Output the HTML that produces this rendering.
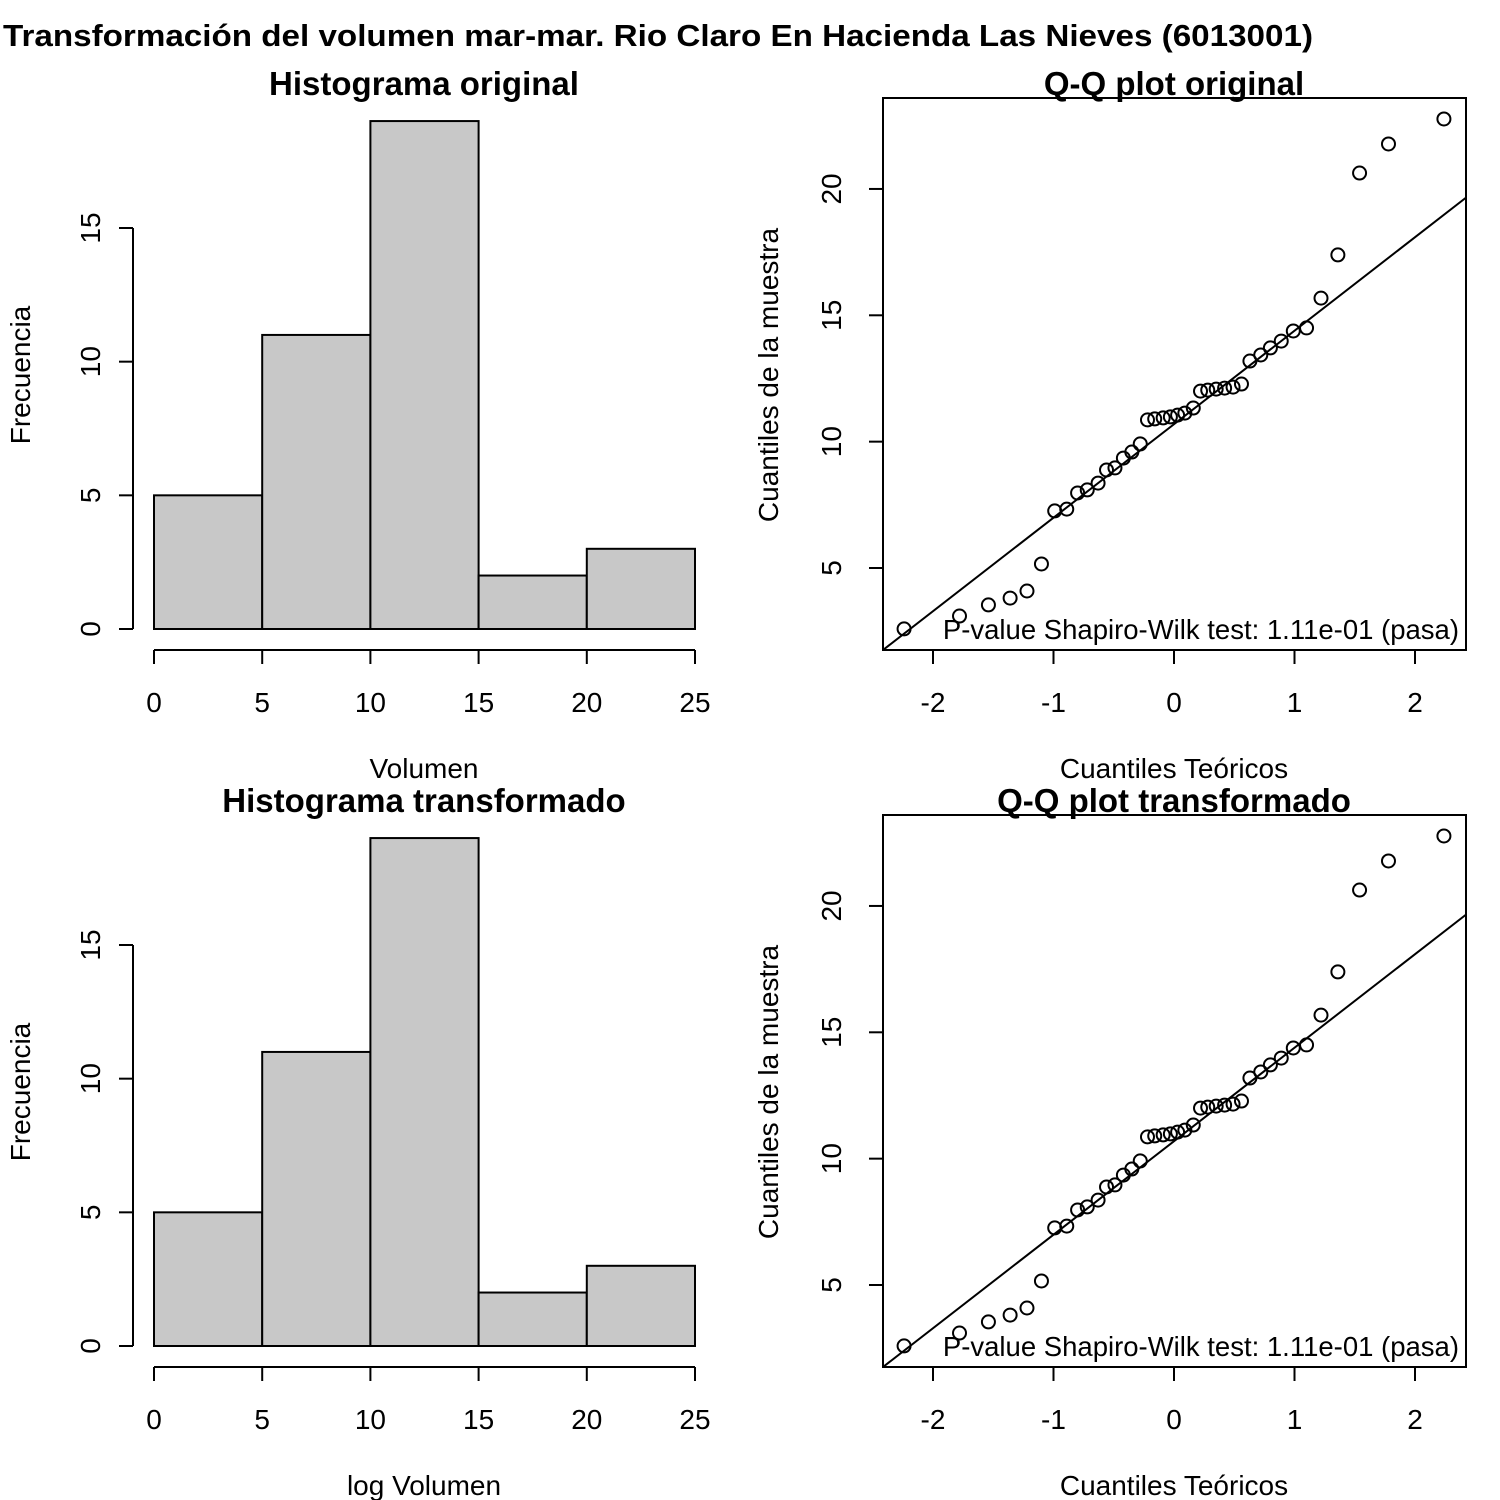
<!DOCTYPE html>
<html><head><meta charset="utf-8"><style>
html,body{margin:0;padding:0;background:#fff}
svg{display:block;font-family:"Liberation Sans",Arial,sans-serif}
</style></head><body>
<svg id="c" width="1500" height="1500" viewBox="0 0 1500 1500" xmlns="http://www.w3.org/2000/svg">
<text x="3" y="46" font-size="31" font-weight="bold" textLength="1310" lengthAdjust="spacingAndGlyphs">Transformación del volumen mar-mar. Rio Claro En Hacienda Las Nieves (6013001)</text>
</svg>
<script>
const histBreaks = [0,5,10,15,20,25];
const histCounts = [5,11,19,2,3];
const histYTicks = [0,5,10,15];
const histXTicks = [0,5,10,15,20,25];
const qqTheo = [-2.24,-1.78,-1.54,-1.36,-1.22,-1.10,-0.99,-0.89,-0.80,-0.72,-0.63,-0.56,-0.49,-0.42,-0.35,-0.28,-0.22,-0.16,-0.09,-0.03,0.03,0.09,0.16,0.22,0.28,0.35,0.42,0.49,0.56,0.63,0.72,0.80,0.89,0.99,1.10,1.22,1.36,1.54,1.78,2.24];
const qqSample = [2.59,3.10,3.54,3.81,4.09,5.16,7.26,7.33,7.97,8.09,8.36,8.88,8.96,9.35,9.59,9.91,10.86,10.90,10.94,10.98,11.05,11.13,11.33,12.00,12.04,12.08,12.12,12.16,12.28,13.19,13.43,13.71,13.98,14.38,14.50,15.68,17.39,20.63,21.78,22.77];
const qqLine = [10.69, 3.70]; // intercept, slope
const qqXTicks = [-2,-1,0,1,2];
const qqYTicks = [5,10,15,20];
const pText = "P-value Shapiro-Wilk test: 1.11e-01 (pasa)";

const svg = document.getElementById('c');
const NS = 'http://www.w3.org/2000/svg';
const FS = 28;
function mk(tag, attrs, parent, text){
  const e = document.createElementNS(NS, tag);
  for (const k in attrs) e.setAttribute(k, attrs[k]);
  if (text !== undefined) e.textContent = text;
  (parent||svg).appendChild(e);
  return e;
}

function hist(dy, title, xlab, key){
  const g = mk('g', {});
  
  
  const sx = v => 154 + v * (695-154)/25;
  const sy = v => 629 + dy - v * (629-228)/15;
  const t = mk('text', {x:424, y:95+dy, 'font-size':33, 'font-weight':'bold', 'text-anchor':'middle'}, g, title);
  
  
  histCounts.forEach((c,i)=>{
    const r = mk('rect', {x:sx(histBreaks[i]), y:sy(c), width:sx(histBreaks[i+1])-sx(histBreaks[i]), height:sy(0)-sy(c), fill:'#c8c8c8', stroke:'#000', 'stroke-width':2}, g);
    
    
  });
  const ya = mk('g', {}, g);
  
  
  mk('line', {x1:133, x2:133, y1:sy(0), y2:sy(15), stroke:'#000', 'stroke-width':2}, ya);
  histYTicks.forEach(v=>{
    mk('line', {x1:133, x2:119, y1:sy(v), y2:sy(v), stroke:'#000', 'stroke-width':2}, ya);
    mk('text', {x:0, y:0, transform:`translate(100,${sy(v)}) rotate(-90)`, 'font-size':FS, 'text-anchor':'middle'}, ya, v);
  });
  const xa = mk('g', {}, g);
  
  
  mk('line', {x1:sx(0), x2:sx(25), y1:650+dy, y2:650+dy, stroke:'#000', 'stroke-width':2}, xa);
  histXTicks.forEach(v=>{
    mk('line', {x1:sx(v), x2:sx(v), y1:650+dy, y2:664+dy, stroke:'#000', 'stroke-width':2}, xa);
    mk('text', {x:sx(v), y:712+dy, 'font-size':FS, 'text-anchor':'middle'}, xa, v);
  });
  const xl = mk('text', {x:424, y:778+dy, 'font-size':FS, 'text-anchor':'middle'}, g, xlab);
  
  
  const yl = mk('text', {x:0, y:0, transform:`translate(30,${375+dy}) rotate(-90)`, 'font-size':FS, 'text-anchor':'middle'}, g, 'Frecuencia');
  
  
}

function qq(dy, title, key){
  const g = mk('g', {});
  
  
  const L=883, R=1466, T=98+dy, B=650+dy;
  const sx = v => 1174 + v * 120.5;
  const sy = v => 568 + dy - (v-5) * 25.27;
  const box = mk('rect', {x:L, y:T, width:R-L, height:B-T, fill:'none', stroke:'#000', 'stroke-width':2}, g);
  
  
  const t = mk('text', {x:1174, y:95+dy, 'font-size':33, 'font-weight':'bold', 'text-anchor':'middle'}, g, title);
  
  
  const cp = mk('clipPath', {id:'clip'+key}, g);
  mk('rect', {x:L, y:T, width:R-L, height:B-T}, cp);
  const x0 = (L-1174)/120.5, x1 = (R-1174)/120.5;
  const ln = mk('line', {x1:sx(x0), y1:sy(qqLine[0]+qqLine[1]*x0), x2:sx(x1), y2:sy(qqLine[0]+qqLine[1]*x1), stroke:'#000', 'stroke-width':2, 'clip-path':`url(#clip${key})`}, g);
  
  
  qqTheo.forEach((x,i)=>{
    const c = mk('circle', {cx:sx(x), cy:sy(qqSample[i]), r:6.5, fill:'none', stroke:'#000', 'stroke-width':2}, g);
    
    
  });
  const pt = mk('text', {x:1459, y:639+dy, 'font-size':27.5, 'text-anchor':'end'}, g, pText);
  
  
  const xa = mk('g', {}, g);
  
  
  qqXTicks.forEach(v=>{
    mk('line', {x1:sx(v), x2:sx(v), y1:B, y2:B+14, stroke:'#000', 'stroke-width':2}, xa);
    mk('text', {x:sx(v), y:712+dy, 'font-size':FS, 'text-anchor':'middle'}, xa, v);
  });
  const ya = mk('g', {}, g);
  
  
  qqYTicks.forEach(v=>{
    mk('line', {x1:L, x2:L-14, y1:sy(v), y2:sy(v), stroke:'#000', 'stroke-width':2}, ya);
    mk('text', {x:0, y:0, transform:`translate(841,${sy(v)}) rotate(-90)`, 'font-size':FS, 'text-anchor':'middle'}, ya, v);
  });
  const xl = mk('text', {x:1174, y:778+dy, 'font-size':FS, 'text-anchor':'middle'}, g, 'Cuantiles Teóricos');
  
  
  const yl = mk('text', {x:0, y:0, transform:`translate(778,${375+dy}) rotate(-90)`, 'font-size':FS, 'text-anchor':'middle'}, g, 'Cuantiles de la muestra');
  
  
}

hist(0, 'Histograma original', 'Volumen', 'hist-original');
qq(0, 'Q-Q plot original', 'qq-original');
hist(717, 'Histograma transformado', 'log Volumen', 'hist-transformed');
qq(717, 'Q-Q plot transformado', 'qq-transformed');
</script>
</body></html>
